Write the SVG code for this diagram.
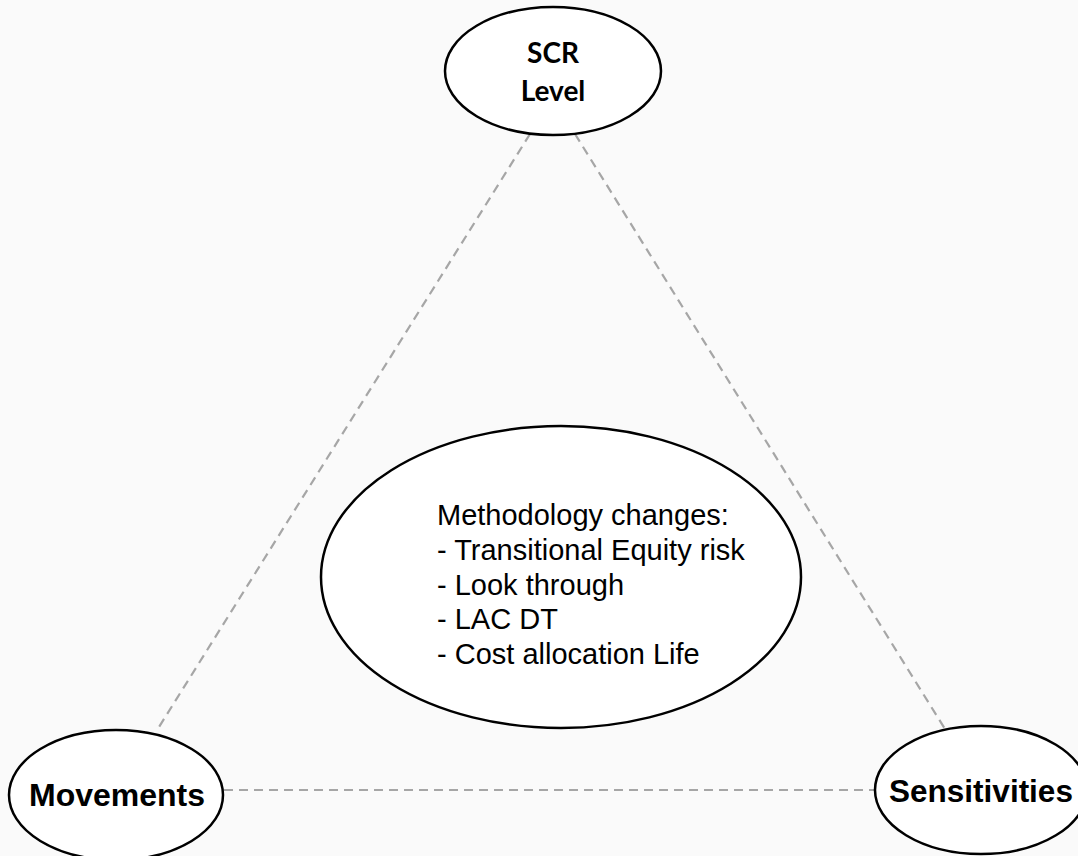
<svg xmlns="http://www.w3.org/2000/svg" width="1078" height="856" viewBox="0 0 1078 856">
<style>
.node{fill:#ffffff;stroke:#000000;stroke-width:2.5}
.conn{stroke:#a6a6a6;stroke-width:2.2;stroke-dasharray:9 6;fill:none}
.cal{font-family:Lato,"Open Sans","Liberation Sans",sans-serif;font-weight:bold;font-size:28px;fill:#000;text-anchor:middle}
.lab{font-family:"Liberation Sans",Arial,sans-serif;font-weight:bold;font-size:32px;fill:#000;text-anchor:middle}
.body{font-family:"Liberation Sans",Arial,sans-serif;font-size:29px;fill:#000}
</style>
<rect x="0" y="0" width="1078" height="856" fill="#fafafa"/>
<g id="connectors">
<line class="conn" x1="530" y1="134" x2="159" y2="727"/>
<line class="conn" x1="575" y1="134" x2="945" y2="729"/>
<line class="conn" x1="224" y1="790" x2="875" y2="790"/>
</g>
<g id="scr-level">
<ellipse class="node" cx="553" cy="71" rx="108" ry="64"/>
<text class="cal" x="553" y="63">SCR</text>
<text class="cal" x="553" y="101">Level</text>
</g>
<g id="methodology">
<ellipse class="node" cx="561" cy="577" rx="240" ry="151"/>
<text class="body" x="437" y="525">Methodology changes:</text>
<text class="body" x="437" y="560">- Transitional Equity risk</text>
<text class="body" x="437" y="595">- Look through</text>
<text class="body" x="437" y="629">- LAC DT</text>
<text class="body" x="437" y="664">- Cost allocation Life</text>
</g>
<g id="movements">
<ellipse class="node" cx="116" cy="795" rx="107" ry="65"/>
<text class="lab" x="117" y="806">Movements</text>
</g>
<g id="sensitivities">
<ellipse class="node" cx="981" cy="790" rx="106" ry="64"/>
<text class="lab" x="981" y="802" style="font-size:31.5px">Sensitivities</text>
</g>
</svg>
